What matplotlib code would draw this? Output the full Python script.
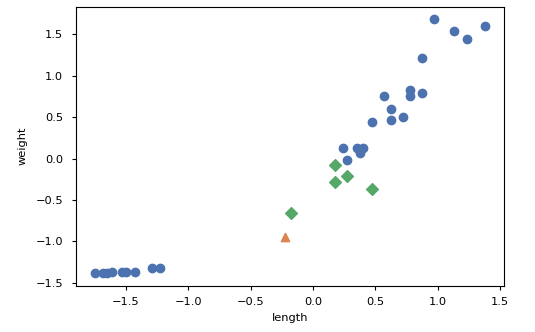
import matplotlib
matplotlib.use("Agg")
import matplotlib.pyplot as plt

# training samples (blue circles)
train_length = [0.970, 1.126, 1.230, 1.374, 0.870, 0.776, 0.776, 0.870, 0.568,
                0.622, 0.622, 0.722, 0.470, 0.242, 0.350, 0.402, 0.376, 0.274,
                -1.744, -1.680, -1.650, -1.610, -1.530, -1.500, -1.424, -1.290, -1.224]
train_weight = [1.682, 1.541, 1.448, 1.605, 1.219, 0.828, 0.756, 0.796, 0.756,
                0.595, 0.466, 0.506, 0.446, 0.132, 0.132, 0.132, 0.064, -0.017,
                -1.385, -1.385, -1.380, -1.375, -1.370, -1.370, -1.370, -1.325, -1.325]

# nearest neighbours (green diamonds)
nbr_length = [0.174, 0.274, 0.174, 0.470, -0.180]
nbr_weight = [-0.081, -0.206, -0.287, -0.363, -0.653]

# new sample (orange triangle)
new_length = [-0.224]
new_weight = [-0.943]

blue = "#4C72B0"
orange = "#DD8452"
green = "#55A868"

plt.rcParams['font.family'] = ['DejaVu Sans']
plt.rcParams['font.size'] = 8.2

fig = plt.figure(figsize=(5.35, 3.32), dpi=100)
ax = fig.add_axes([0.142, 0.139, 0.942 - 0.142, 0.980 - 0.139])

ax.scatter(train_length, train_weight, color=blue, s=36)
ax.scatter(new_length, new_weight, marker='^', color=orange, s=36)
ax.scatter(nbr_length, nbr_weight, marker='D', color=green, s=36)

ax.set_xlim(-1.90, 1.53)
ax.set_ylim(-1.537, 1.834)
ax.set_xticks([-1.5, -1.0, -0.5, 0.0, 0.5, 1.0, 1.5])
ax.set_yticks([-1.5, -1.0, -0.5, 0.0, 0.5, 1.0, 1.5])
ax.tick_params(length=3.1, width=0.8)
ax.tick_params(axis='x', pad=5.0)
ax.tick_params(axis='y', pad=6.2)
ax.set_xlabel("length", labelpad=4.0)
ax.set_ylabel("weight", labelpad=5.5)

fig.savefig("out.png", dpi=100)
